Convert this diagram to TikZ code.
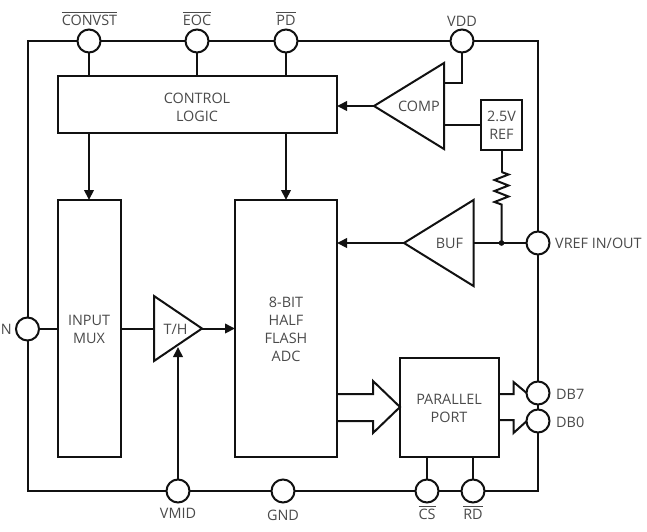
\documentclass[tikz,border=0pt]{standalone}
\usepackage{fontspec}
\setmainfont{Open Sans}
\usetikzlibrary{arrows.meta}
\definecolor{txt}{HTML}{4A4A4A}
\definecolor{ln}{HTML}{111111}
\newcommand{\barred}[1]{\vbox{\hrule height 1.1pt\kern 2.2pt\hbox{#1}}}
\tikzset{
  wire/.style={draw=ln,line width=2pt},
  sig/.style={wire,-{Triangle[length=10pt,width=9.5pt]}},
  blockbox/.style={wire,fill=white,inner sep=0pt,outer sep=0pt},
  pin/.style={circle,wire,fill=white,minimum size=23pt,inner sep=0pt,outer sep=0pt},
  lab/.style={text=txt,font=\fontsize{14.4pt}{18pt}\selectfont,align=center,inner sep=0pt},
  rs/.style={wire,line join=miter,fill=white}
}
\begin{document}
\begin{tikzpicture}[x=1pt,y=-1pt]
\useasboundingbox[fill=white] (0,0) rectangle (647,531);
% package outline
\coordinate (tl) at (27.5,41);
\coordinate (tr) at (538,41);
\coordinate (bl) at (27.5,491);
\coordinate (br) at (538,491);
\draw[wire] (tl) -- (tr) -- (br) -- (bl) -- cycle;
% blocks
\node[blockbox,minimum width=279pt,minimum height=57pt] (ctl) at (197.5,104.5) {};
\node[lab] at (197,107) {CONTROL\\LOGIC};
\node[blockbox,minimum width=63pt,minimum height=257pt] (mux) at (89.5,328.5) {};
\node[lab] at (89,329) {INPUT\\MUX};
\node[blockbox,minimum width=102pt,minimum height=257pt] (adc) at (286,328.5) {};
\node[lab] at (286,329) {8-BIT\\HALF\\FLASH\\ADC};
\node[blockbox,minimum width=99pt,minimum height=99pt] (port) at (449.5,407.5) {};
\node[lab] at (449,408) {PARALLEL\\PORT};
\node[blockbox,minimum width=41pt,minimum height=49.5pt] (ref) at (501.5,124.75) {};
\node[lab] at (501.5,125) {2.5V\\REF};
% amplifiers
\coordinate (compA) at (374,106);
\coordinate (compT) at (444,63);
\coordinate (compB) at (444,149);
\coordinate (bufA) at (404,243);
\coordinate (bufT) at (473.5,200);
\coordinate (bufB) at (473.5,286);
\coordinate (thA) at (202,328.5);
\coordinate (thT) at (154,296);
\coordinate (thB) at (154,361);
\draw[rs] (compA) -- (compT) -- (compB) -- cycle;
\draw[rs] (bufA) -- (bufT) -- (bufB) -- cycle;
\draw[rs] (thA) -- (thT) -- (thB) -- cycle;
\node[lab] at (419,106) {COMP};
\node[lab] at (449.5,243.5) {BUF};
\node[lab] at (175.5,329) {T/H};
% connectors
\draw[wire] (89,41) -- (89,76);
\draw[wire] (197,41) -- (197,76);
\draw[wire] (286,41) -- (286,76);
\draw[wire] (462,41) |- (444,83);
\draw[wire] (ref.west) -- (ref.west -| compT);
\draw[sig] (compA) -- (compA -| ctl.east);
\draw[sig] (89,133) -- (89,200);
\draw[sig] (286,133) -- (286,200);
\draw[sig] (bufA) -- (bufA -| adc.east);
\draw[wire] (473.5,243) -- (538,243);
\draw[wire] (ref.south) -- (501.5,172);
\draw[wire] (501.5,172) -- (508.5,174.5) -- (494.5,180) -- (508.5,185.5) -- (494.5,191) -- (508.5,196.5) -- (494.5,202) -- (501.5,204.5) -- (501.5,243);
\fill[ln] (501.5,243) circle (2.8pt);
\draw[wire] (27.5,329) -- (58,329);
\draw[wire] (121,329) -- (154,329);
\draw[sig] (thA) -- (thA -| adc.west);
\draw[sig] (178,491) -- (178,347);
\draw[wire] (427,491) -- (427,457);
\draw[wire] (473,491) -- (473,457);
% bus arrows
\coordinate (busA) at (337,394);
\coordinate (busB) at (337,421);
\coordinate (busT) at (373,381);
\coordinate (busU) at (373,394);
\coordinate (busV) at (373,421);
\coordinate (busW) at (373,433);
\coordinate (busTip) at (400,407);
\draw[wire,line join=miter] (busA) -- (busU) -- (busT) -- (busTip) -- (busW) -- (busV) -- (busB);
\draw[wire,line join=miter] (499,394) -- (513.5,394) -- (513.5,382) -- (529,395);
\draw[wire,line join=miter] (499,420) -- (513.5,420) -- (513.5,433) -- (529,419);
% pins
\node[pin] (convst) at (89,41) {};
\node[pin] (eoc) at (197,41) {};
\node[pin] (pd) at (286,41) {};
\node[pin] (vdd) at (462,41) {};
\node[pin] (vref) at (538,243) {};
\node[pin] (in) at (27.5,329) {};
\node[pin] (vmid) at (178,491) {};
\node[pin] (gnd) at (283,491) {};
\node[pin] (cs) at (427,491) {};
\node[pin] (rd) at (473,491) {};
\node[pin] (db7) at (538,393) {};
\node[pin] (db0) at (538,421) {};
% pin labels
\node[lab] at (89.5,18.5) {\barred{CONVST}};
\node[lab] at (197,18.5) {\barred{EOC}};
\node[lab] at (286,18.5) {\barred{PD}};
\node[lab] at (462,21) {VDD};
\node[lab,anchor=west] at (555,243.5) {VREF IN/OUT};
\node[lab,anchor=east] at (12,329.5) {N};
\node[lab] at (178,513) {VMID};
\node[lab] at (283,515) {GND};
\node[lab] at (427,512.5) {\barred{CS}};
\node[lab] at (473,512.5) {\barred{RD}};
\node[lab,anchor=west] at (556,394) {DB7};
\node[lab,anchor=west] at (556,422) {DB0};
\end{tikzpicture}
\end{document}
